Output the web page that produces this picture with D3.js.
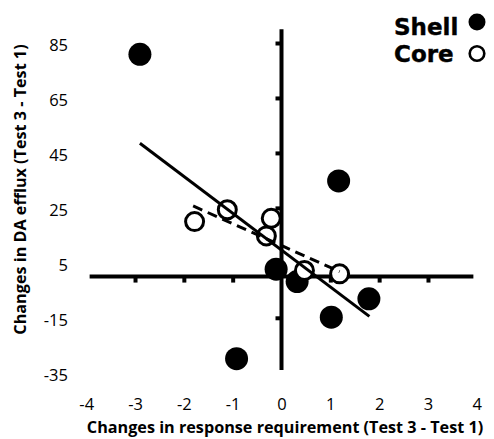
<!DOCTYPE html>
<html>
<head>
<meta charset="utf-8">
<script src="https://cdn.jsdelivr.net/npm/d3@7"></script>
<style>
  html, body { margin: 0; padding: 0; background: #fff; }
  svg { display: block; }
  .tick-label text { font-family: "Open Sans", sans-serif; font-size: 16.5px; fill: #000; }
  .title { font-family: "Open Sans", sans-serif; font-weight: bold; font-size: 16.2px; fill: #000; }
  .legend { font-family: "DejaVu Sans", Verdana, sans-serif; font-weight: bold; font-size: 23px; fill: #000; stroke: #000; stroke-width: 0.4px; }
</style>
</head>
<body>
<svg id="chart" width="494" height="439"></svg>
<script>
// Shell (filled) and Core (open) points: change in response requirement vs change in DA efflux
const shellX = [-2.90, 1.17, -0.11, 0.32, 1.79, 1.02, -0.92];
const shellY = [80.9, 34.8, 2.7, -1.8, -8.1, -14.8, -29.9];
const coreX = [-1.78, -1.11, -0.21, -0.31, 0.47, 1.19];
const coreY = [20.0, 24.3, 21.2, 14.8, 2.2, 1.0];

// Fitted trend lines (endpoints)
const shellFitX = [-2.90, 1.80];
const shellFitY = [48.5, -14.5];
const coreFitX = [-1.81, 1.19];
const coreFitY = [25.7, 1.8];

// Tick labels
const xTicks = [-4, -3, -2, -1, 0, 1, 2, 3, 4];
const yTicks = [85, 65, 45, 25, 5, -15, -35];
const xTickMarks = [-3, -2, -1, 1, 2, 3];
const yTickMarks = [85, 65, 45, 25, 5, -15];

// Extent of the crossing axis lines
const xAxisExtent = [-3.93, 3.93];
const yAxisExtent = [-34, 90];

const legendLabels = ["Shell", "Core"];

const svg = d3.select("#chart");

const x = d3.scaleLinear().domain([-4, 4]).range([86.2, 476.8]);
const y = d3.scaleLinear().domain([-35, 85]).range([372.75, 43]);

const plain = d => String(d);

// Tick labels, set apart from the crossing axes
const yLab = svg.append("g")
  .attr("class", "tick-label")
  .attr("transform", "translate(68,2.5)")
  .call(d3.axisLeft(y).tickValues(yTicks).tickSize(0).tickPadding(0).tickFormat(plain));
yLab.select(".domain").remove();

const xLab = svg.append("g")
  .attr("class", "tick-label")
  .attr("transform", "translate(0,398)")
  .call(d3.axisBottom(x).tickValues(xTicks).tickSize(0).tickPadding(0).tickFormat(plain));
xLab.select(".domain").remove();

// Crossing axes through the origin
const yAxisG = svg.append("g")
  .attr("transform", `translate(${x(0)},0)`)
  .call(d3.axisLeft(y).tickValues(yTickMarks).tickSize(6).tickFormat(""));
yAxisG.select(".domain").remove();
yAxisG.selectAll(".tick line").attr("stroke", "#000").attr("stroke-width", 4);

const xAxisG = svg.append("g")
  .attr("transform", `translate(0,${y(0)})`)
  .call(d3.axisBottom(x).tickValues(xTickMarks).tickSize(6).tickFormat(""));
xAxisG.select(".domain").remove();
xAxisG.selectAll(".tick line").attr("stroke", "#000").attr("stroke-width", 4);

svg.append("line")
  .attr("x1", x(0)).attr("x2", x(0))
  .attr("y1", y(yAxisExtent[0])).attr("y2", y(yAxisExtent[1]))
  .attr("stroke", "#000").attr("stroke-width", 4);
svg.append("line")
  .attr("x1", x(xAxisExtent[0])).attr("x2", x(xAxisExtent[1]))
  .attr("y1", y(0)).attr("y2", y(0))
  .attr("stroke", "#000").attr("stroke-width", 4);

// Points
svg.append("g").selectAll("circle")
  .data(d3.zip(shellX, shellY))
  .join("circle")
  .attr("cx", d => x(d[0])).attr("cy", d => y(d[1]))
  .attr("r", 11.5).attr("fill", "#000");

svg.append("g").selectAll("circle")
  .data(d3.zip(coreX, coreY))
  .join("circle")
  .attr("cx", d => x(d[0])).attr("cy", d => y(d[1]))
  .attr("r", 9).attr("fill", "#fff").attr("stroke", "#000").attr("stroke-width", 3);

// Trend lines
const line = d3.line().x(d => x(d[0])).y(d => y(d[1]));
svg.append("path")
  .attr("d", line(d3.zip(shellFitX, shellFitY)))
  .attr("fill", "none").attr("stroke", "#000").attr("stroke-width", 3);
svg.append("path")
  .attr("d", line(d3.zip(coreFitX, coreFitY)))
  .attr("fill", "none").attr("stroke", "#000").attr("stroke-width", 3)
  .attr("stroke-dasharray", "10,6");

// Axis titles
svg.append("text")
  .attr("class", "title")
  .attr("x", 285).attr("y", 433)
  .attr("text-anchor", "middle")
  .text("Changes in response requirement (Test 3 - Test 1)");
svg.append("text")
  .attr("class", "title")
  .attr("transform", "translate(26,189.5) rotate(-90)")
  .attr("text-anchor", "middle")
  .text("Changes in DA efflux (Test 3 - Test 1)");

// Legend
const leg = svg.append("g");
leg.selectAll("text")
  .data(legendLabels)
  .join("text")
  .attr("class", "legend")
  .attr("x", 394).attr("y", (d, i) => 35 + i * 27)
  .text(d => d);
leg.append("circle").attr("cx", 477).attr("cy", 22).attr("r", 8.5).attr("fill", "#000");
leg.append("circle").attr("cx", 477).attr("cy", 53.5).attr("r", 7.3)
  .attr("fill", "#fff").attr("stroke", "#000").attr("stroke-width", 2.6);
</script>
</body>
</html>
